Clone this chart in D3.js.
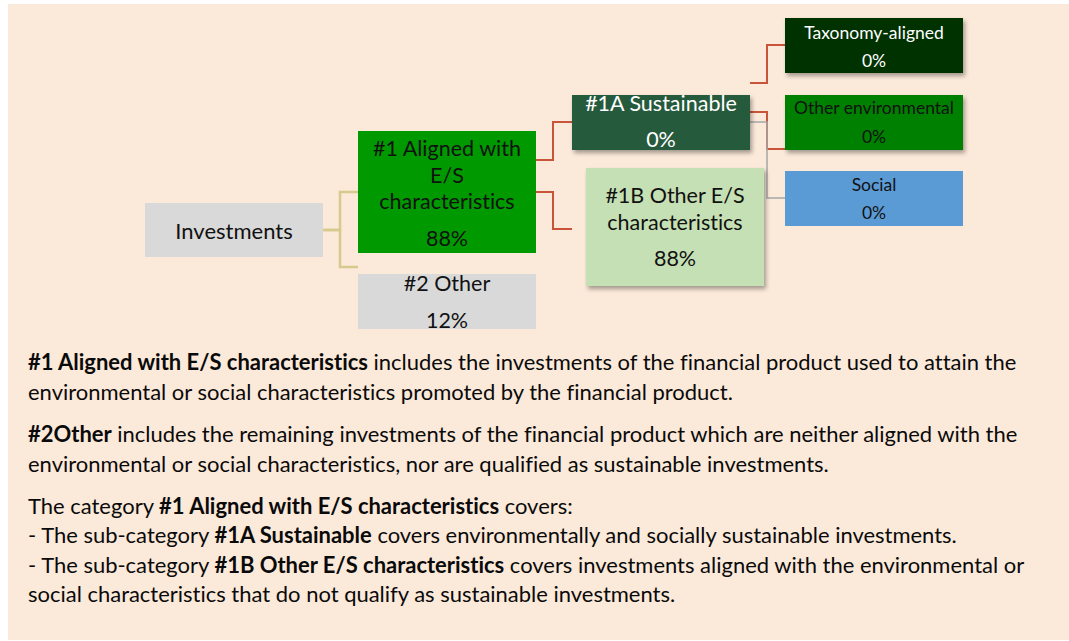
<!DOCTYPE html>
<html lang="en">
<head>
<meta charset="UTF-8">
<title>Asset allocation</title>
<script src="https://d3js.org/d3.v7.min.js"></script>
<style>
  body{margin:0;background:#fff;font-family:Lato,"Open Sans",Arial,sans-serif}
  svg{display:block;font-variant-ligatures:none}
</style>
</head>
<body>
<div id="chart"></div>
<script>
/* --- data --- */
const nodeIds    = ["inv","es","other","sust","oth_es","tax","env","soc"];
const nodeLabels = [["Investments"],["#1 Aligned with","E/S","characteristics"],["#2 Other"],
                    ["#1A Sustainable"],["#1B Other E/S","characteristics"],
                    ["Taxonomy-aligned"],["Other environmental"],["Social"]];
const nodeValues = [null,88,12,0,88,0,0,0];
const links      = [["inv","es"],["inv","other"],["es","sust"],["es","oth_es"],
                    ["sust","tax"],["sust","env"],["sust","soc"]];

const notes = [
  [["#1 Aligned with E/S characteristics",1],[" includes the investments of the financial product used to attain the",0]],
  [["environmental or social characteristics promoted by the financial product.",0]],
  [["#2Other",1],[" includes the remaining investments of the financial product which are neither aligned with the",0]],
  [["environmental or social characteristics, nor are qualified as sustainable investments.",0]],
  [["The category ",0],["#1 Aligned with E/S characteristics",1],[" covers:",0]],
  [["- The sub-category ",0],["#1A Sustainable",1],[" covers environmentally and socially sustainable investments.",0]],
  [["- The sub-category ",0],["#1B Other E/S characteristics",1],[" covers investments aligned with the environmental or",0]],
  [["social characteristics that do not qualify as sustainable investments.",0]]
];

/* --- layout (positions/styles) --- */
const W=1069,H=641;
const box={
  inv:   {x:145,y:203,w:178,h:54, fill:"#d9d9d9",tc:"#111",fs:22,ly:[230],vy:null,sh:false},
  es:    {x:358,y:131,w:178,h:122,fill:"#009900",tc:"#111",fs:21.5,ly:[148,175,201],vy:238,sh:false},
  other: {x:358,y:274,w:178,h:55, fill:"#d9d9d9",tc:"#111",fs:21.5,ly:[283],vy:320,sh:false},
  sust:  {x:572,y:95, w:178,h:55, fill:"#265a3c",tc:"#fff",fs:21.5,ly:[103],vy:139,sh:true},
  oth_es:{x:586,y:168,w:178,h:118,fill:"#c5e0b4",tc:"#111",fs:21.5,ly:[195,222],vy:258,sh:true},
  tax:   {x:785,y:18, w:178,h:55, fill:"#003300",tc:"#fff",fs:17.5,ly:[32],vy:60,sh:true},
  env:   {x:785,y:95, w:178,h:55, fill:"#008000",tc:"#111",fs:17.5,ly:[107],vy:136,sh:true},
  soc:   {x:785,y:171,w:178,h:55, fill:"#5b9bd5",tc:"#111",fs:17.5,ly:[184],vy:212,sh:false}
};
// elbow connectors: start y, bend x, end y, end x, colour
const elbow={
  "inv-es":    {sy:230,mx:340,ty:192,tx:358,c:"#d6ca8c",w:2.5},
  "inv-other": {sy:230,mx:340,ty:267,tx:358,c:"#d6ca8c",w:2.5},
  "es-sust":   {sy:160,mx:553,ty:122,tx:572,c:"#c8553a",w:2},
  "es-oth_es": {sy:192,mx:553,ty:229,tx:572,c:"#c8553a",w:2},
  "sust-tax":  {sy:83, mx:767,ty:45, tx:785,c:"#c8553a",w:2},
  "sust-env":  {sy:112,mx:767,ty:149,tx:785,c:"#c8553a",w:2},
  "sust-soc":  {sy:122,mx:767,ty:198,tx:785,c:"#a6a6a6",w:1.5}
};

const svg=d3.select("#chart").append("svg").attr("width",W).attr("height",H);
const defs=svg.append("defs");
const f=defs.append("filter").attr("id","shadow").attr("x","-10%").attr("y","-10%")
  .attr("width","130%").attr("height","140%");
f.append("feDropShadow").attr("dx",2).attr("dy",3).attr("stdDeviation",2)
  .attr("flood-color","#000").attr("flood-opacity",0.35);

svg.append("rect").attr("x",8).attr("y",4).attr("width",W-8).attr("height",H-5)
   .attr("fill","#fbe9d9");

/* --- connectors --- */
links.forEach(([s,t])=>{
  const e=elbow[s+"-"+t],sx=box[s].x+box[s].w;
  const p=d3.path();
  p.moveTo(sx,e.sy);p.lineTo(e.mx,e.sy);p.lineTo(e.mx,e.ty);p.lineTo(e.tx,e.ty);
  svg.append("path").attr("d",p.toString()).attr("fill","none")
     .attr("stroke",e.c).attr("stroke-width",e.w);
});

/* --- boxes --- */
nodeIds.forEach((id,i)=>{
  const b=box[id];
  const g=svg.append("g");
  g.append("rect").attr("x",b.x).attr("y",b.y).attr("width",b.w).attr("height",b.h)
   .attr("fill",b.fill).attr("filter",b.sh?"url(#shadow)":null);
  const cx=b.x+b.w/2;
  nodeLabels[i].forEach((l,j)=>{
    g.append("text").attr("x",cx).attr("y",b.ly[j]).attr("text-anchor","middle")
     .attr("dominant-baseline","central").attr("font-size",b.fs).attr("fill",b.tc).text(l);
  });
  if(nodeValues[i]!=null){
    g.append("text").attr("x",cx).attr("y",b.vy).attr("text-anchor","middle")
     .attr("dominant-baseline","central").attr("font-size",b.fs).attr("fill",b.tc)
     .text(nodeValues[i]+"%");
  }
});

/* --- notes --- */
const noteY=[370,400,442,472,514,543,573,602];
const noteEnd=[1018,745,1022,840,null,960,1020,684];
let fs=20;
const tx=svg.append("g").attr("fill","#0a0a0a");
const lines=notes.map((segs,i)=>{
  const t=tx.append("text").attr("x",28).attr("y",noteY[i]).attr("font-size",fs);
  segs.forEach(([s,b])=>t.append("tspan").attr("font-weight",b?"bold":null).text(s));
  return t;
});
// fit font size so the long lines end where they do in the original
const ratios=[0,2,6].map(i=>(noteEnd[i]-28)/lines[i].node().getComputedTextLength());
fs=fs*d3.mean(ratios);
lines.forEach(t=>t.attr("font-size",fs));
</script>
</body>
</html>
